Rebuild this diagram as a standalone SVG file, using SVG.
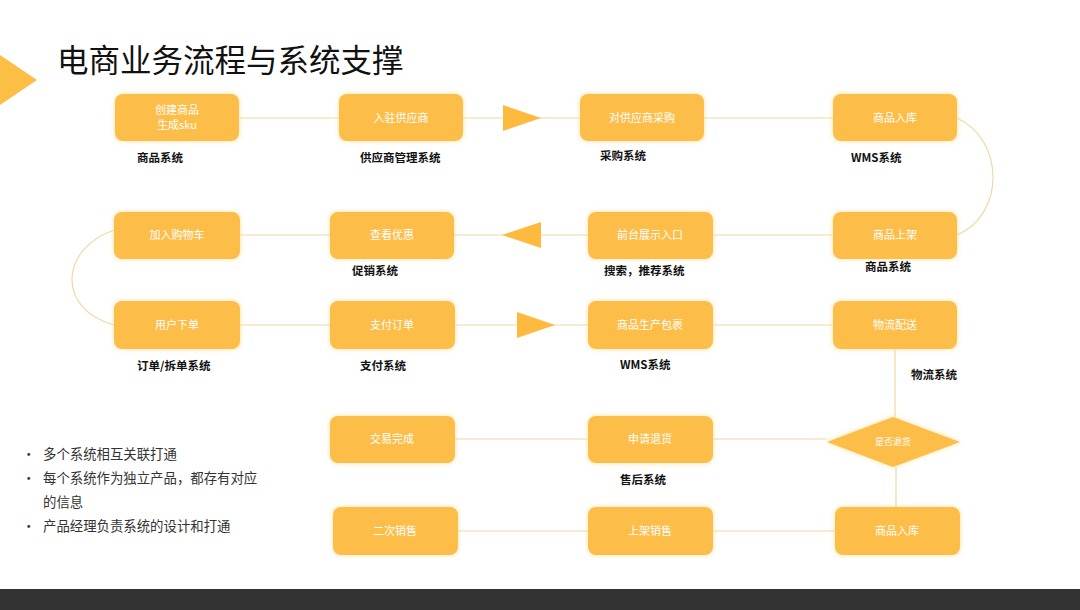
<svg xmlns="http://www.w3.org/2000/svg" width="1080" height="610" viewBox="0 0 1080 610">
<defs>
<filter id="glow" x="-20%" y="-30%" width="140%" height="160%">
<feGaussianBlur in="SourceAlpha" stdDeviation="2.5" result="b"/>
<feFlood flood-color="#FFC94F" flood-opacity="0.55"/>
<feComposite in2="b" operator="in" result="s"/>
<feMerge><feMergeNode in="s"/><feMergeNode in="SourceGraphic"/></feMerge>
</filter>
<style>
.box{fill:#FDBD48;filter:url(#glow)}
.bt{fill:#FFFFFF;font-family:"Noto Sans CJK SC","Noto Sans",sans-serif;font-size:11px;text-anchor:middle}
.lb{fill:#111111;font-family:"Noto Sans CJK SC","Liberation Sans",sans-serif;font-size:11.5px;font-weight:bold}
.ln{stroke:#EFD9A6;stroke-width:1.2;fill:none}
.tri{fill:#FDBA3E}
.bl{fill:#333333;font-family:"Noto Sans CJK SC","Liberation Sans",sans-serif;font-size:13.4px}
</style>
</defs>
<rect width="1080" height="610" fill="#FFFFFF"/>
<polygon points="0,55 37,80 0,105" fill="#FBBF45"/>
<text x="57" y="72" font-family="Noto Sans CJK SC, sans-serif" font-size="31.5" fill="#111111">电商业务流程与系统支撑</text>

<g id="connectors">
<line class="ln" x1="240" y1="118" x2="339" y2="118"/>
<line class="ln" x1="463" y1="118" x2="580" y2="118"/>
<polygon class="tri" points="503,105 541,118 503,131"/>
<line class="ln" x1="704" y1="118" x2="833" y2="118"/>
<path class="ln" d="M957,118 C1005,140 1005,215 957,235"/>
<line class="ln" x1="713" y1="235" x2="833" y2="235"/>
<line class="ln" x1="454" y1="235" x2="588" y2="235"/>
<polygon class="tri" points="541,222 502,235 541,248"/>
<line class="ln" x1="240" y1="235" x2="330" y2="235"/>
<path class="ln" d="M114,230 C58,250 58,310 114,325"/>
<line class="ln" x1="240" y1="325" x2="330" y2="325"/>
<line class="ln" x1="455" y1="325" x2="588" y2="325"/>
<polygon class="tri" points="517,312 555,325 517,338"/>
<line class="ln" x1="713" y1="325" x2="833" y2="325"/>
<line class="ln" x1="895" y1="349" x2="895" y2="417"/>
<line class="ln" x1="455" y1="439" x2="588" y2="439"/>
<line class="ln" x1="713" y1="439" x2="827" y2="439"/>
<line class="ln" x1="896" y1="467" x2="896" y2="507"/>
<line class="ln" x1="458" y1="531" x2="588" y2="531"/>
<line class="ln" x1="713" y1="531" x2="835" y2="531"/>
</g>

<g id="n1"><rect class="box" x="115" y="94" width="124" height="47" rx="8"/><text class="bt" x="177" y="114">创建商品</text><text class="bt" x="177" y="129">生成sku</text><text class="lb" x="137" y="162">商品系统</text></g>
<g id="n2"><rect class="box" x="339" y="94" width="124" height="47" rx="8"/><text class="bt" x="401" y="122">入驻供应商</text><text class="lb" x="360" y="162">供应商管理系统</text></g>
<g id="n3"><rect class="box" x="580" y="94" width="124" height="47" rx="8"/><text class="bt" x="642" y="122">对供应商采购</text><text class="lb" x="600" y="160">采购系统</text></g>
<g id="n4"><rect class="box" x="833" y="94" width="124" height="47" rx="8"/><text class="bt" x="895" y="122">商品入库</text><text class="lb" x="851" y="162">WMS系统</text></g>

<g id="n5"><rect class="box" x="833" y="212" width="124" height="47" rx="8"/><text class="bt" x="895" y="239">商品上架</text><text class="lb" x="865" y="271">商品系统</text></g>
<g id="n6"><rect class="box" x="588" y="212" width="125" height="47" rx="8"/><text class="bt" x="650" y="239">前台展示入口</text><text class="lb" x="604" y="275">搜索，推荐系统</text></g>
<g id="n7"><rect class="box" x="330" y="212" width="124" height="47" rx="8"/><text class="bt" x="392" y="239">查看优惠</text><text class="lb" x="352" y="275">促销系统</text></g>
<g id="n8"><rect class="box" x="114" y="212" width="126" height="47" rx="8"/><text class="bt" x="177" y="239">加入购物车</text></g>

<g id="n9"><rect class="box" x="114" y="301" width="126" height="48" rx="8"/><text class="bt" x="177" y="329">用户下单</text><text class="lb" x="137" y="370">订单/拆单系统</text></g>
<g id="n10"><rect class="box" x="330" y="301" width="125" height="48" rx="8"/><text class="bt" x="392" y="329">支付订单</text><text class="lb" x="360" y="370">支付系统</text></g>
<g id="n11"><rect class="box" x="588" y="301" width="125" height="48" rx="8"/><text class="bt" x="650" y="329">商品生产包裹</text><text class="lb" x="620" y="369">WMS系统</text></g>
<g id="n12"><rect class="box" x="833" y="301" width="124" height="48" rx="8"/><text class="bt" x="895" y="329">物流配送</text><text class="lb" x="911" y="379">物流系统</text></g>

<g id="n13"><polygon class="box" points="893,417 960,442 893,467 827,442"/><text class="bt" x="893" y="445" style="font-size:9px">是否退货</text></g>
<g id="n14"><rect class="box" x="588" y="416" width="125" height="47" rx="8"/><text class="bt" x="650" y="443">申请退货</text><text class="lb" x="620" y="484">售后系统</text></g>
<g id="n15"><rect class="box" x="330" y="416" width="125" height="47" rx="8"/><text class="bt" x="392" y="443">交易完成</text></g>

<g id="n16"><rect class="box" x="835" y="507" width="125" height="48" rx="8"/><text class="bt" x="897" y="535">商品入库</text></g>
<g id="n17"><rect class="box" x="588" y="507" width="125" height="48" rx="8"/><text class="bt" x="650" y="535">上架销售</text></g>
<g id="n18"><rect class="box" x="333" y="507" width="125" height="48" rx="8"/><text class="bt" x="395" y="535">二次销售</text></g>

<g id="bullets">
<text class="bl" x="22" y="459">•</text><text class="bl" x="43" y="459">多个系统相互关联打通</text>
<text class="bl" x="22" y="483">•</text><text class="bl" x="43" y="483">每个系统作为独立产品，都存有对应</text>
<text class="bl" x="43" y="507">的信息</text>
<text class="bl" x="22" y="531">•</text><text class="bl" x="43" y="531">产品经理负责系统的设计和打通</text>
</g>
<rect x="0" y="589" width="1080" height="21" fill="#333333"/>
</svg>
